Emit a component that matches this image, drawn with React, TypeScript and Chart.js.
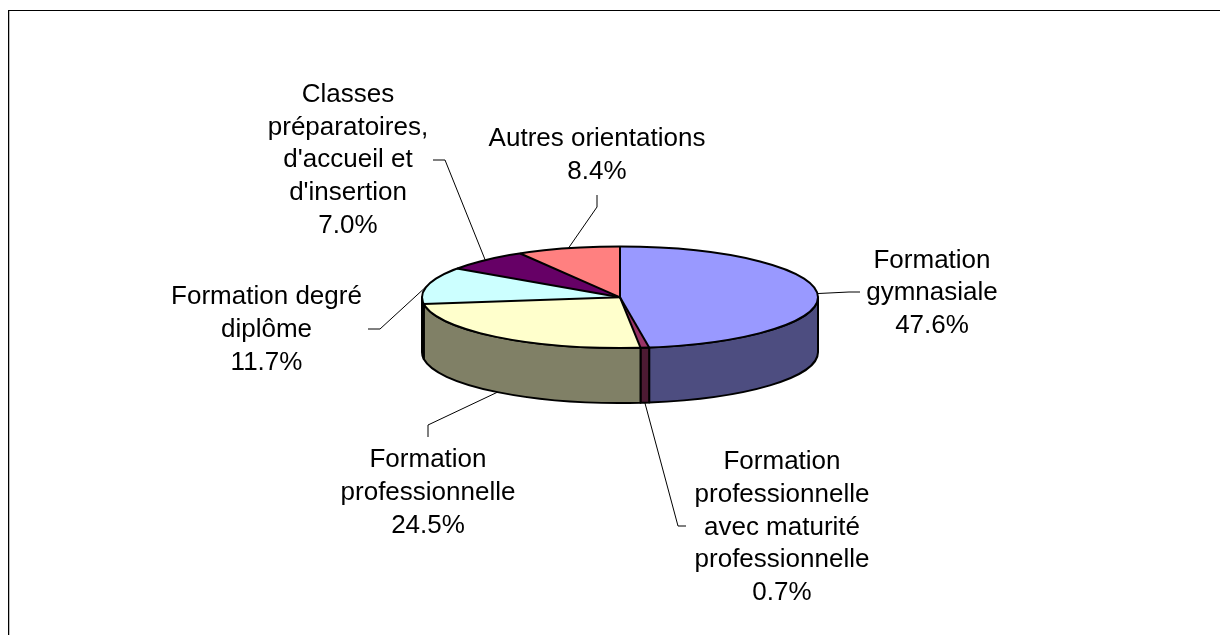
import React, { useEffect, useRef } from 'react';
import { Chart, PieController, ArcElement } from 'chart.js';

Chart.register(PieController, ArcElement);

// ---- data ----
const categories = [
  'Formation gymnasiale',
  'Formation professionnelle avec maturité professionnelle',
  'Formation professionnelle',
  'Formation degré diplôme',
  "Classes préparatoires, d'accueil et d'insertion",
  'Autres orientations',
];
const categoryLines = [
  ['Formation', 'gymnasiale'],
  ['Formation', 'professionnelle', 'avec maturité', 'professionnelle'],
  ['Formation', 'professionnelle'],
  ['Formation degré', 'diplôme'],
  ['Classes', 'préparatoires,', "d'accueil et", "d'insertion"],
  ['Autres orientations'],
];
const shares = [47.6, 0.7, 24.5, 11.7, 7.0, 8.4];

// ---- styles / layout ----
const topColors = ['#9999FF', '#993366', '#FFFFCC', '#CCFFFF', '#660066', '#FF8080'];
const sideColors = ['#4D4D80', '#4D1A33', '#808066', '#668080', '#330033', '#804040'];
const CX = 620;
const CY = 297.3;
const RX = 198;
const RY = 50.7;
const DEPTH = 55;
const FONT = '26px "Liberation Sans", Arial, sans-serif';
const LINE_H = 32.8;
const labelLayout = [
  { x: 932, y: 267.5, elbow: [849, 292], end: [860, 292] },
  { x: 782, y: 469, elbow: [678, 526], end: [686, 526] },
  { x: 428, y: 467, elbow: [428, 425], end: [428, 437] },
  { x: 266.5, y: 304.3, elbow: [380, 329], end: [368, 329] },
  { x: 348, y: 101.7, elbow: [445, 160], end: [433, 160] },
  { x: 597, y: 146, elbow: [597, 207], end: [597, 195] },
];

const pie3d = {
  id: 'pie3d',
  beforeDatasetsDraw(chart: any) {
    const ctx = chart.ctx as CanvasRenderingContext2D;
    const arcs = chart.getDatasetMeta(0).data;
    ctx.save();
    ctx.lineWidth = 2;
    ctx.strokeStyle = '#000';
    ctx.lineJoin = 'round';
    arcs.forEach((arc: any, i: number) => {
      const { startAngle, endAngle } = arc.getProps(['startAngle', 'endAngle'], true);
      const a = Math.max(startAngle, 0);
      const b = Math.min(endAngle, Math.PI);
      if (b <= a) return;
      ctx.beginPath();
      ctx.ellipse(CX, CY, RX, RY, 0, a, b, false);
      ctx.lineTo(CX + RX * Math.cos(b), CY + DEPTH + RY * Math.sin(b));
      ctx.ellipse(CX, CY + DEPTH, RX, RY, 0, b, a, true);
      ctx.closePath();
      ctx.fillStyle = sideColors[i];
      ctx.fill();
      ctx.stroke();
    });
    ctx.restore();
    const { x, y } = arcs[0].getProps(['x', 'y'], true);
    ctx.save();
    ctx.translate(CX, CY);
    ctx.scale(1, RY / RX);
    ctx.translate(-x, -y);
  },
  afterDatasetsDraw(chart: any) {
    const ctx = chart.ctx as CanvasRenderingContext2D;
    ctx.restore();
    const arcs = chart.getDatasetMeta(0).data;
    ctx.save();
    ctx.lineWidth = 2;
    ctx.strokeStyle = '#000';
    ctx.lineJoin = 'round';
    ctx.beginPath();
    ctx.ellipse(CX, CY, RX, RY, 0, 0, Math.PI * 2);
    ctx.stroke();
    arcs.forEach((arc: any) => {
      const { startAngle } = arc.getProps(['startAngle'], true);
      ctx.beginPath();
      ctx.moveTo(CX, CY);
      ctx.lineTo(CX + RX * Math.cos(startAngle), CY + RY * Math.sin(startAngle));
      ctx.stroke();
    });
    // labels
    ctx.lineWidth = 1;
    ctx.font = FONT;
    ctx.fillStyle = '#000';
    ctx.textAlign = 'center';
    ctx.textBaseline = 'alphabetic';
    arcs.forEach((arc: any, i: number) => {
      const { startAngle, endAngle } = arc.getProps(['startAngle', 'endAngle'], true);
      const mid = (startAngle + endAngle) / 2;
      let px = CX + RX * Math.cos(mid);
      let py = CY + RY * Math.sin(mid);
      if (Math.sin(mid) > 0) py += DEPTH;
      const L = labelLayout[i];
      ctx.beginPath();
      ctx.moveTo(px, py);
      ctx.lineTo(L.elbow[0], L.elbow[1]);
      ctx.lineTo(L.end[0], L.end[1]);
      ctx.stroke();
      const lines = [...categoryLines[i], shares[i].toFixed(1) + '%'];
      lines.forEach((t, j) => ctx.fillText(t, L.x, L.y + j * LINE_H));
    });
    ctx.restore();
  },
};

export default function App() {
  const ref = useRef<HTMLCanvasElement>(null);
  useEffect(() => {
    const chart = new Chart(ref.current!, {
      type: 'pie',
      data: {
        labels: categories,
        datasets: [
          {
            data: shares,
            backgroundColor: topColors,
            borderWidth: 0,
            hoverOffset: 0,
            offset: 0,
            radius: RX,
          } as any,
        ],
      },
      options: {
        responsive: false,
        animation: false,
        events: [],
        radius: RX,
        plugins: { legend: { display: false }, tooltip: { enabled: false } },
      } as any,
      plugins: [pie3d],
    });
    return () => chart.destroy();
  }, []);
  return (
    <div style={{ position: 'fixed', left: 0, top: 0, width: 1220, height: 635, background: '#fff', overflow: 'hidden' }}>
      <canvas ref={ref} width={1220} height={635} style={{ position: 'absolute', left: 0, top: 0, display: 'block' }} />
      <div
        style={{
          position: 'absolute',
          left: 8,
          top: 10,
          width: 1212,
          height: 625,
          boxSizing: 'border-box',
          borderTop: '1px solid #000',
          borderLeft: '1px solid #000',
          boxShadow: 'inset 1px 0 0 #bdbdbd',
          pointerEvents: 'none',
        }}
      />
    </div>
  );
}
